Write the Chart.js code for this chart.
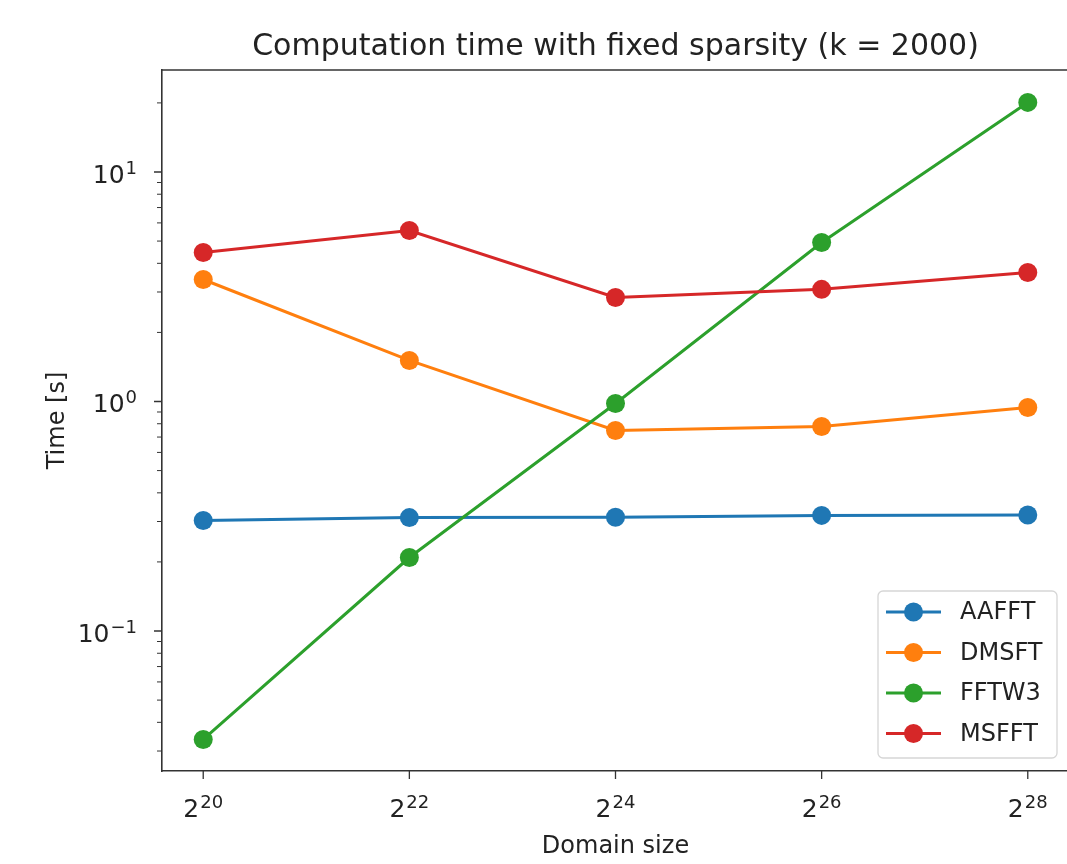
<!DOCTYPE html>
<html>
<head>
<meta charset="utf-8">
<script src="https://cdn.jsdelivr.net/npm/chart.js@4"></script>
<style>
  html, body { margin: 0; padding: 0; background: #fff; }
  #wrap { width: 1067px; height: 864px; overflow: hidden; position: relative; }
  canvas { display: block; }
</style>
</head>
<body>
<div id="wrap"><canvas id="line-chart" width="1080" height="864"></canvas></div>
<script>
/* Data */
var xExponents = [20, 22, 24, 26, 28];
var aafft = [0.303, 0.312, 0.313, 0.319, 0.320];
var dmsft = [3.40, 1.51, 0.748, 0.778, 0.942];
var fftw3 = [0.0337, 0.209, 0.98, 4.93, 20.1];
var msfft = [4.46, 5.56, 2.84, 3.08, 3.65];

var seriesNames = ["AAFFT", "DMSFT", "FFTW3", "MSFFT"];
var seriesColors = ["#1f77b4", "#ff7f0e", "#2ca02c", "#d62728"];

var xTicks = [20, 22, 24, 26, 28];
var yMajorTicks = [0.1, 1, 10];
var yMinorTicks = [0.03, 0.04, 0.05, 0.06, 0.07, 0.08, 0.09,
                   0.2, 0.3, 0.4, 0.5, 0.6, 0.7, 0.8, 0.9,
                   2, 3, 4, 5, 6, 7, 8, 9, 20];

var FONT = "'DejaVu Sans', sans-serif";

function points(values) {
  return values.map(function (v, i) { return {x: xExponents[i], y: v}; });
}

var allSeries = [aafft, dmsft, fftw3, msfft];
var datasets = allSeries.map(function (vals, i) {
  return {
    label: seriesNames[i],
    data: points(vals),
    borderColor: seriesColors[i],
    backgroundColor: seriesColors[i],
    borderWidth: 3,
    pointRadius: 9.5,
    pointHoverRadius: 9.5,
    pointBorderWidth: 0,
    fill: false,
    tension: 0,
    order: 3 - i
  };
});

// base with raised exponent, like matplotlib mathtext
function powerLabel(ctx, base, exp, x, y, align) {
  ctx.font = "25px " + FONT;
  var wb = ctx.measureText(base).width;
  ctx.font = "18px " + FONT;
  var we = ctx.measureText(exp).width;
  var left = align === "right" ? x - wb - we - 1 : x - (wb + we + 1) / 2;
  ctx.textAlign = "left";
  ctx.textBaseline = "alphabetic";
  ctx.font = "25px " + FONT;
  ctx.fillText(base, left, y);
  ctx.font = "18px " + FONT;
  ctx.fillText(exp, left + wb + 1, y - 9);
}

/* spines, tick marks, tick labels, title and legend drawn like matplotlib */
var mplDecor = {
  id: "mplDecor",
  afterDraw: function (chart) {
    var ctx = chart.ctx, area = chart.chartArea;
    var xs = chart.scales.x, ys = chart.scales.y;
    ctx.save();
    ctx.strokeStyle = "#333";
    ctx.lineWidth = 1.6;
    ctx.beginPath();
    ctx.moveTo(area.left, area.top);
    ctx.lineTo(area.right, area.top);
    ctx.stroke();

    ctx.lineWidth = 1.3;
    ctx.beginPath();
    xTicks.forEach(function (t) {
      var px = xs.getPixelForValue(t);
      ctx.moveTo(px, area.bottom);
      ctx.lineTo(px, area.bottom + 8);
    });
    yMajorTicks.forEach(function (t) {
      var py = ys.getPixelForValue(t);
      ctx.moveTo(area.left, py);
      ctx.lineTo(area.left - 8, py);
    });
    ctx.stroke();
    ctx.lineWidth = 1;
    ctx.beginPath();
    yMinorTicks.forEach(function (t) {
      var py = ys.getPixelForValue(t);
      ctx.moveTo(area.left, py);
      ctx.lineTo(area.left - 5, py);
    });
    ctx.stroke();

    // tick labels
    ctx.fillStyle = "#222";
    xTicks.forEach(function (t) {
      powerLabel(ctx, "2", String(t), xs.getPixelForValue(t), area.bottom + 46, "center");
    });
    yMajorTicks.forEach(function (t) {
      var e = Math.round(Math.log10(t));
      powerLabel(ctx, "10", (e < 0 ? "\u2212" : "") + Math.abs(e), area.left - 25, ys.getPixelForValue(t) + 11, "right");
    });

    // title
    ctx.font = "30px " + FONT;
    ctx.textAlign = "center";
    ctx.textBaseline = "alphabetic";
    ctx.fillText("Computation time with fixed sparsity (k = 2000)", (area.left + area.right) / 2, 55);

    // legend
    var bx = 878, by = 591, bw = 179, bh = 167;
    ctx.fillStyle = "rgba(255,255,255,0.8)";
    ctx.strokeStyle = "#d6d6d6";
    ctx.lineWidth = 1.3;
    ctx.beginPath();
    ctx.roundRect(bx, by, bw, bh, 5);
    ctx.fill();
    ctx.stroke();
    ctx.font = "24px " + FONT;
    ctx.textAlign = "left";
    ctx.textBaseline = "middle";
    chart.data.datasets.forEach(function (ds, i) {
      var ry = 612 + i * 40.5;
      ctx.strokeStyle = ds.borderColor;
      ctx.lineWidth = 3;
      ctx.beginPath();
      ctx.moveTo(886, ry);
      ctx.lineTo(941, ry);
      ctx.stroke();
      ctx.fillStyle = ds.borderColor;
      ctx.beginPath();
      ctx.arc(913.5, ry, 9.5, 0, Math.PI * 2);
      ctx.fill();
      ctx.fillStyle = "#222";
      ctx.fillText(ds.label, 960, ry + 1);
    });
    ctx.restore();
  }
};

new Chart(document.getElementById("line-chart"), {
  type: "line",
  data: { datasets: datasets },
  plugins: [mplDecor],
  options: {
    responsive: false,
    animation: false,
    devicePixelRatio: 1,
    layout: { padding: { top: 70, right: 11, left: 0, bottom: 0 } },
    plugins: {
      legend: { display: false },
      title: { display: false },
      tooltip: { enabled: false }
    },
    scales: {
      x: {
        type: "linear",
        min: 19.6,
        max: 28.4,
        afterFit: function (s) { s.height = 93; },
        afterBuildTicks: function (s) { s.ticks = xTicks.map(function (v) { return {value: v}; }); },
        grid: { display: false, drawTicks: false },
        border: { display: true, color: "#333", width: 1.6 },
        ticks: { display: false },
        title: {
          display: true,
          text: "Domain size",
          color: "#222",
          font: { family: FONT, size: 24 },
          padding: { top: 0, bottom: 3 }
        }
      },
      y: {
        type: "logarithmic",
        min: 0.02455,
        max: 27.82,
        afterFit: function (s) { s.width = 162; },
        afterBuildTicks: function (s) {
          s.ticks = yMajorTicks.map(function (v) { return {value: v, major: true}; });
        },
        grid: { display: false, drawTicks: false },
        border: { display: true, color: "#333", width: 1.6 },
        ticks: { display: false },
        title: {
          display: true,
          text: "Time [s]",
          color: "#222",
          font: { family: FONT, size: 24 },
          padding: { top: 43, bottom: 0 }
        }
      }
    }
  }
});
</script>
</body>
</html>
